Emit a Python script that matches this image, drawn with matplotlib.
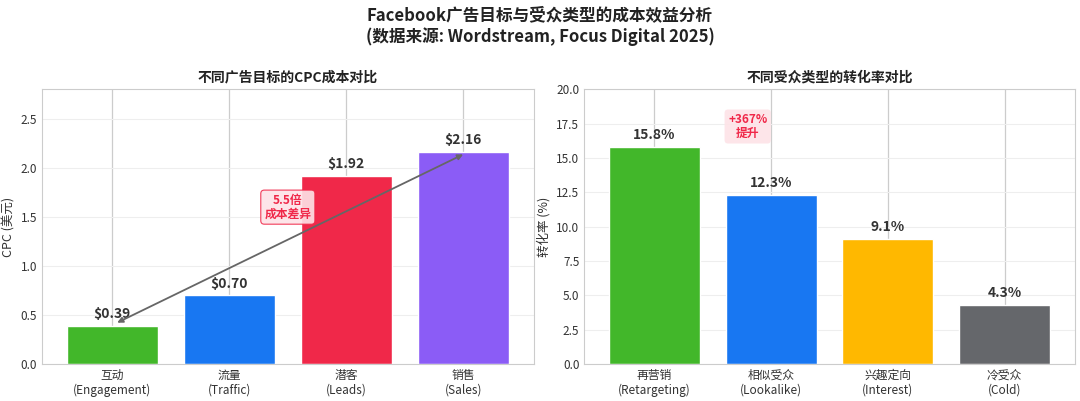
import matplotlib
matplotlib.use("Agg")
import matplotlib.pyplot as plt

plt.rcParams['font.family'] = ['Noto Sans CJK SC', 'DejaVu Sans']

goals = ['互动\n(Engagement)', '流量\n(Traffic)', '潜客\n(Leads)', '销售\n(Sales)']
cpc = [0.39, 0.70, 1.92, 2.16]
cpc_colors = ['#42b72a', '#1877f2', '#f02849', '#8b5cf6']

aud = ['再营销\n(Retargeting)', '相似受众\n(Lookalike)', '兴趣定向\n(Interest)', '冷受众\n(Cold)']
conv = [15.8, 12.3, 9.1, 4.3]
conv_colors = ['#42b72a', '#1877f2', '#ffb800', '#65676b']

fig = plt.figure(figsize=(10.8, 4.01), dpi=100)
ax1 = fig.add_axes([0.039, 0.092, 0.455, 0.685])
ax2 = fig.add_axes([0.541, 0.092, 0.454, 0.685])

fig.suptitle('Facebook广告目标与受众类型的成本效益分析\n(数据来源: Wordstream, Focus Digital 2025)',
             fontsize=12, fontweight='bold', color='#222222', y=0.985, linespacing=1.2)

for ax in (ax1, ax2):
    ax.set_axisbelow(True)
    ax.grid(True, axis='x', color='#cccccc', lw=0.9)
    ax.grid(True, axis='y', color='#eeeeee', lw=0.8)
    for s in ax.spines.values():
        s.set_color('#cccccc')
    ax.tick_params(colors='#333333', labelsize=8.5, length=0)

x = range(len(goals))
ax1.bar(x, cpc, color=cpc_colors, width=0.78, edgecolor='white', lw=1)
ax1.set_xticks(list(x))
ax1.set_xticklabels(goals)
ax1.set_ylim(0, 2.8)
ax1.set_xlim(-0.6, 3.6)
ax1.set_ylabel('CPC (美元)', fontsize=9, color='#333333')
ax1.set_title('不同广告目标的CPC成本对比', fontsize=10, fontweight='bold', color='#222222')
for i, v in enumerate(cpc):
    ax1.text(i, v + 0.05, f'${v:.2f}', ha='center', va='bottom', fontsize=10, fontweight='bold', color='#333333')
ax1.annotate('', xy=(0.02, 0.41), xytext=(3.02, 2.15),
             arrowprops=dict(arrowstyle='<|-|>', color='#666666', lw=1.3, mutation_scale=8))
ax1.text(1.5, 1.6, '5.5倍\n成本差异', ha='center', va='center', fontsize=8.5, fontweight='bold',
         color='#f02849', linespacing=1.1,
         bbox=dict(boxstyle='round,pad=0.3', fc='#fde3e7', ec='#f02849', lw=0.8, alpha=0.9))

x2 = range(len(aud))
ax2.bar(x2, conv, color=conv_colors, width=0.78, edgecolor='white', lw=1)
ax2.set_xticks(list(x2))
ax2.set_xticklabels(aud)
ax2.set_ylim(0, 20)
ax2.set_xlim(-0.6, 3.6)
ax2.set_ylabel('转化率 (%)', fontsize=9, color='#333333')
ax2.set_title('不同受众类型的转化率对比', fontsize=10, fontweight='bold', color='#222222')
for i, v in enumerate(conv):
    ax2.text(i, v + 0.4, f'{v:.1f}%', ha='center', va='bottom', fontsize=10, fontweight='bold', color='#333333')
ax2.text(0.8, 17.3, '+367%\n提升', ha='center', va='center', fontsize=8.5, fontweight='bold',
         color='#f02849', linespacing=1.1,
         bbox=dict(boxstyle='round,pad=0.3', fc='#fde3e7', ec='none', alpha=0.9))

fig.savefig('out.png', dpi=100, facecolor='white')
